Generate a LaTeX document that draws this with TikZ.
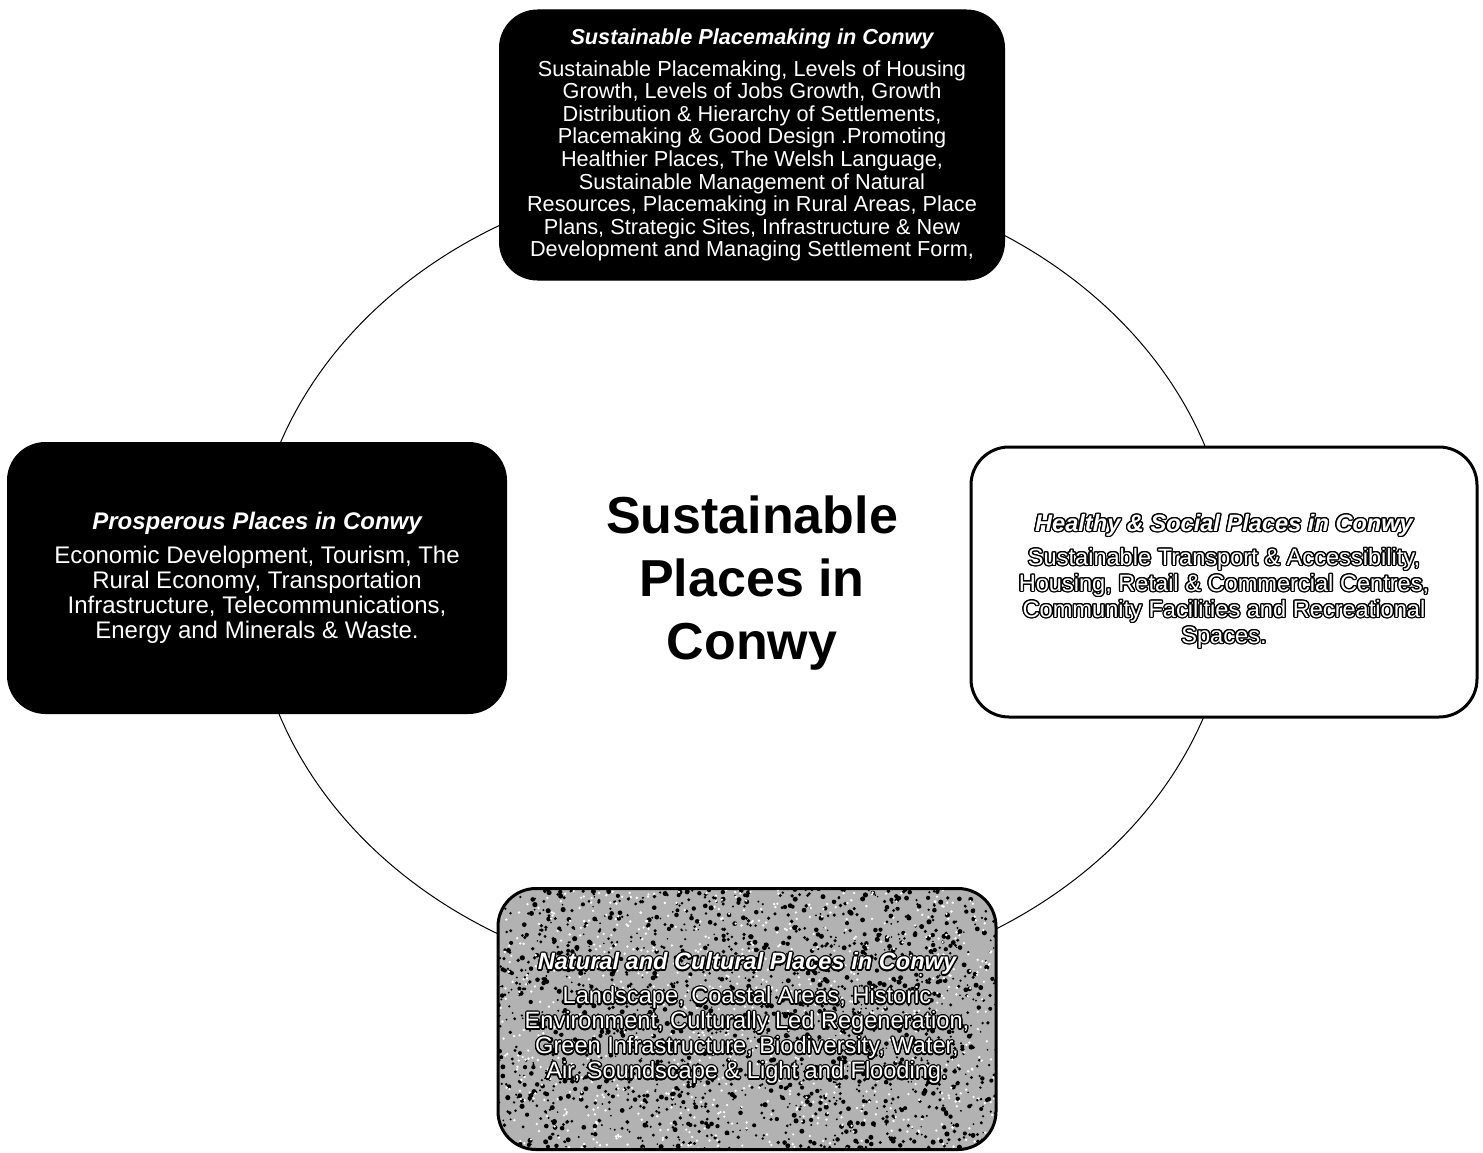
\documentclass[tikz,border=0pt]{standalone}
\usepackage{fontspec}
\setmainfont{Liberation Sans}
\usepackage{contour}
\contourlength{1.3pt}
\usetikzlibrary{positioning}

% white letters with a black rim
\newcommand{\rimtext}[1]{\contour{black}{#1}}

\tikzset{
	placebox/.style={rounded corners=38pt, align=center, inner sep=0pt, text=white},
	darkbox/.style={placebox, draw=black, fill=black, line width=1pt},
	lightbox/.style={placebox, draw=black, fill=white, line width=3pt},
	speckbox/.style={placebox, draw=black, fill=black!30, line width=3pt,
		path picture={
			\foreach \k in {1,...,1900}{
				\pgfmathsetmacro\dx{rand*250}
				\pgfmathsetmacro\dy{rand*131}
				\pgfmathsetmacro\rr{0.8+1.8*rnd}
				\fill[black] ([shift={(\dx,\dy)}]path picture bounding box.center) circle (\rr pt);
			}
			\foreach \k in {1,...,900}{
				\pgfmathsetmacro\dx{rand*250}
				\pgfmathsetmacro\dy{rand*131}
				\fill[white] ([shift={(\dx,\dy)}]path picture bounding box.center) circle (1.3pt);
			}
		}}
}

\begin{document}
\begin{tikzpicture}[x=1pt, y=-1pt]
	\pgfmathsetseed{7}
	\useasboundingbox (0,0) rectangle (1483,1153);

	% Draw the ring behind the boxes
	\draw[line width=1pt] (742,580) ellipse [x radius=490, y radius=408];

	% Top: placemaking
	\node[darkbox, minimum width=505pt, minimum height=270pt,
		font=\fontsize{21.7}{22.6}\selectfont] (placemaking) at (752,145)
		{{\bfseries\itshape Sustainable Placemaking in Conwy}\\[9pt]
		Sustainable Placemaking, Levels of Housing\\
		Growth, Levels of Jobs Growth, Growth\\
		Distribution \& Hierarchy of Settlements,\\
		Placemaking \& Good Design .Promoting\\
		Healthier Places, The Welsh Language,\\
		Sustainable Management of Natural\\
		Resources, Placemaking in Rural Areas, Place\\
		Plans, Strategic Sites, Infrastructure \& New\\
		Development and Managing Settlement Form,};

	% Left: prosperous
	\node[darkbox, minimum width=499pt, minimum height=271pt,
		font=\fontsize{24}{25}\selectfont] (prosperous) at (257,578)
		{{\bfseries\itshape Prosperous Places in Conwy}\\[9pt]
		Economic Development, Tourism, The\\
		Rural Economy, Transportation\\
		Infrastructure, Telecommunications,\\
		Energy and Minerals \& Waste.};

	% Right: healthy and social
	\node[lightbox, minimum width=506pt, minimum height=270pt,
		font=\fontsize{23.6}{26}\selectfont] (healthy) at (1224,582)
		{\rimtext{\bfseries\itshape Healthy \& Social Places in Conwy}\\[8pt]
		\rimtext{Sustainable Transport \& Accessibility,}\\
		\rimtext{Housing, Retail \& Commercial Centres,}\\
		\rimtext{Community Facilities and Recreational}\\
		\rimtext{Spaces.}};

	% Bottom: natural and cultural
	\node[speckbox, minimum width=498pt, minimum height=261pt,
		font=\fontsize{23.6}{25}\selectfont] (natural) at (747,1019)
		{\rimtext{\bfseries\itshape Natural and Cultural Places in Conwy}\\[9pt]
		\rimtext{Landscape, Coastal Areas, Historic}\\
		\rimtext{Environment, Culturally Led Regeneration,}\\
		\rimtext{Green Infrastructure, Biodiversity, Water,}\\
		\rimtext{Air, Soundscape \& Light and Flooding.}};

	% Centre title
	\node[align=center, font=\fontsize{52}{63}\selectfont\bfseries] (centre) at (752,583)
		{Sustainable\\ Places in\\ Conwy};
\end{tikzpicture}
\end{document}
